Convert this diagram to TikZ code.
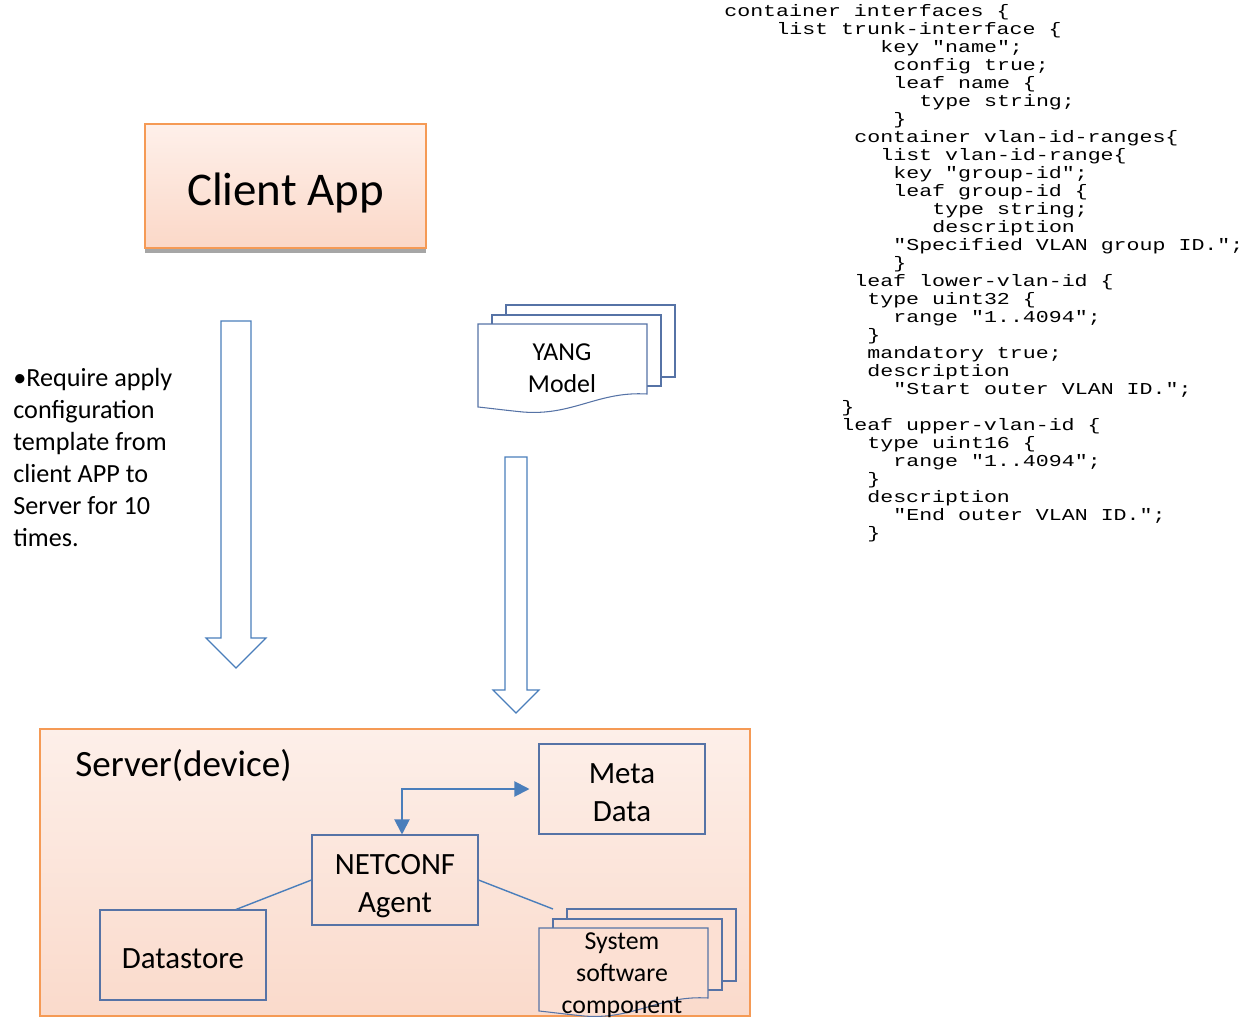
\documentclass[tikz,border=0pt]{standalone}
\usepackage{fontspec}
\setmainfont{Carlito}
\newfontfamily\codefont[FakeStretch=1.3]{Liberation Mono}
\usetikzlibrary{arrows.meta,shadows}

\definecolor{apptop}{HTML}{FEF0EA}
\definecolor{appbottom}{HTML}{FBD8C8}
\definecolor{srvtop}{HTML}{FDEFE9}
\definecolor{srvbottom}{HTML}{FADACB}
\definecolor{docpeach}{HTML}{FCE0D3}
\definecolor{edgeorange}{HTML}{F59A55}
\definecolor{boxblue}{HTML}{5673A6}
\definecolor{linkblue}{HTML}{4A7EBB}

\tikzset{
  pics/docstack/.style={code={
    \draw[boxline, fill=#1] (28,-19) rectangle (197,53);
    \draw[boxline, fill=#1] (14,-9) rectangle (183,62);
    \draw[boxline, fill=#1] (0,0) -- (169,0) -- (169,70)
      .. controls (120,67) and (95,92) .. (45,88)
      .. controls (25,86) and (10,84) .. (0,83) -- cycle;
  }}
}

\begin{document}
\begin{tikzpicture}[x=0.02cm, y=-0.02cm,
    boxline/.style={draw=boxblue, line width=0.6pt},
    appbox/.style={draw=edgeorange, line width=1.2pt, top color=apptop, bottom color=appbottom,
      general shadow={fill=black!35, shadow yshift=-0.1cm},
      minimum width=5.62cm, minimum height=2.48cm},
    partbox/.style={boxline, minimum width=3.32cm, minimum height=1.8cm},
    parttext/.style={align=center, inner sep=0pt, font=\fontsize{17.6}{21.6}\selectfont},
    doctext/.style={align=center, inner sep=0pt, font=\fontsize{14.7}{18.2}\selectfont},
    codeline/.style={anchor=base west, inner sep=0pt, font=\fontsize{9.46}{11}\codefont},
    bigarrow/.style={draw=linkblue, fill=white, line width=0.7pt},
    link/.style={draw=linkblue, line width=0.8pt}]
  \useasboundingbox (0,0) rectangle (1249,1018);

  % client side
  \node[appbox] (client) at (285.5,186) {};
  \node[inner sep=0pt, font=\fontsize{26.7}{30}\selectfont] (clienttext) at (285.5,193) {Client App};
  \node[anchor=north west, inner sep=0pt, align=left, font=\fontsize{14.9}{18.2}\selectfont]
    (note) at (13,368) {•Require apply\\configuration\\template from\\client APP to\\Server for 10\\times.};

  \draw[bigarrow] (221,321) -- (251,321) -- (251,638) -- (266,638) -- (236,668)
    -- (206,638) -- (221,638) -- cycle;

  % yang model
  \pic at (478,324) {docstack=white};
  \node[doctext] (yang) at (562,368) {YANG\\Model};
  \draw[bigarrow] (505,457) -- (527,457) -- (527,690) -- (539,690) -- (516,713)
    -- (493,690) -- (505,690) -- cycle;

  % yang source
  \foreach \ind/\txt [count=\i] in {
      0/container interfaces \{,
      4/list trunk-interface \{,
      12/key "name";,
      13/config true;,
      13/leaf name \{,
      15/type string;,
      13/\},
      10/container vlan-id-ranges\{,
      12/list vlan-id-range\{,
      13/key "group-id";,
      13/leaf group-id \{,
      16/type string;,
      16/description,
      13/"Specified VLAN group ID.";,
      13/\},
      10/leaf lower-vlan-id \{,
      11/type uint32 \{,
      13/range "1..4094";,
      11/\},
      11/mandatory true;,
      11/description,
      13/"Start outer VLAN ID.";,
      9/\},
      9/leaf upper-vlan-id \{,
      11/type uint16 \{,
      13/range "1..4094";,
      11/\},
      11/description,
      13/"End outer VLAN ID.";,
      11/\}}
    \node[codeline] (code\i) at (724+13*\ind, 16+18*\i-18) {\txt};

  % server
  \node[draw=edgeorange, line width=1.2pt, top color=srvtop, bottom color=srvbottom,
    minimum width=14.2cm, minimum height=5.74cm] (server) at (395,872.5) {};
  \node[anchor=west, inner sep=0pt, font=\fontsize{21.1}{25}\selectfont] (srvlabel) at (75,766) {Server(device)};

  \node[partbox] (meta) at (622,789) {};
  \node[parttext] (metatext) at (622,793) {Meta\\Data};
  \node[partbox] (netconf) at (395,880) {};
  \node[parttext] (netconftext) at (395,886) {NETCONF\\Agent};
  \node[partbox] (store) at (183,955) {};
  \node[parttext] (storetext) at (183,959) {Datastore};

  \pic at (539,928) {docstack=docpeach};
  \node[doctext] (sys) at (622,975) {System\\software\\component};
  \coordinate (sysend) at (553,909);

  \path[link, {Triangle[length=0.3cm, width=0.3cm]}-{Triangle[length=0.3cm, width=0.3cm]}, line width=1.1pt]
    ([xshift=0.14cm]netconf.north) |- ([xshift=-0.18cm]meta.west);
  \path[link] (netconf.west) edge ([xshift=1.06cm]store.north)
              (netconf.east) edge (sysend);
\end{tikzpicture}
\end{document}
